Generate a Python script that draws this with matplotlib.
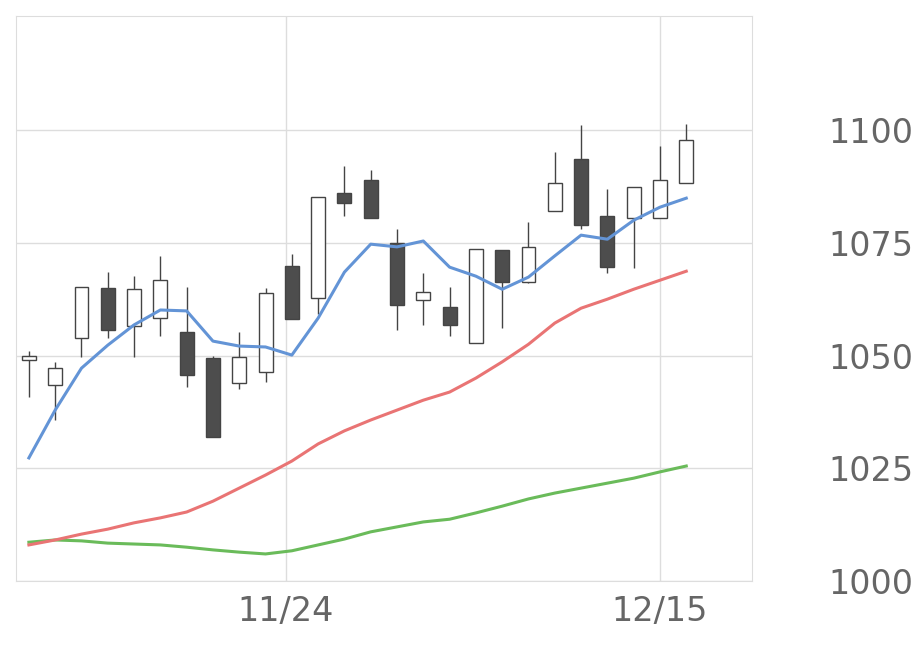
import matplotlib
matplotlib.use("Agg")
import matplotlib.pyplot as plt

opens  = [1049,1043.5,1053.9,1065,1056.5,1058.3,1055.2,1049.4,1043.9,1046.3,1069.8,1062.7,1086,1088.9,1075,1062.3,1060.8,1052.8,1073.4,1066.3,1082,1093.6,1080.9,1080.5,1080.5,1088.2]
closes = [1050,1047.2,1065.2,1055.7,1064.7,1066.7,1045.7,1031.9,1049.7,1063.9,1058.1,1085.1,1083.8,1080.5,1061.2,1064.1,1056.8,1073.6,1066.3,1074.1,1088.2,1078.9,1069.6,1087.4,1088.9,1097.8]
highs  = [1051,1048.6,1065.2,1068.5,1067.6,1072,1065.2,1049.9,1055.2,1065,1072.5,1085.1,1092,1091.1,1078,1068.3,1065.2,1073.6,1073.4,1079.6,1095.1,1101.1,1086.9,1087.4,1096.5,1101.3]
lows   = [1040.8,1035.7,1049.7,1053.9,1049.7,1054.3,1043,1031.9,1042.6,1044.1,1058.1,1059.2,1080.9,1080.5,1055.7,1056.8,1054.3,1052.8,1056.1,1066,1082,1078,1068.3,1069.4,1080.5,1088.2]
ma_blue = [1027.3,1037.9,1047.2,1052.3,1056.8,1060.1,1059.9,1053.2,1052.1,1051.9,1050.1,1058.3,1068.5,1074.7,1074.1,1075.4,1069.6,1067.6,1064.7,1067.4,1072.1,1076.7,1075.8,1080,1082.9,1084.9]
ma_red = [1008,1009.1,1010.4,1011.5,1012.9,1014,1015.3,1017.7,1020.6,1023.5,1026.6,1030.4,1033.3,1035.7,1037.9,1040.1,1041.9,1045,1048.6,1052.5,1057.2,1060.5,1062.5,1064.7,1066.7,1068.7]
ma_green = [1008.6,1009.1,1008.9,1008.4,1008.2,1008,1007.5,1006.9,1006.4,1006,1006.7,1008,1009.3,1010.9,1012,1013.1,1013.7,1015.1,1016.6,1018.2,1019.5,1020.6,1021.7,1022.8,1024.2,1025.5]
xtick_pos = [9.77, 24]
xtick_labels = ["11/24", "12/15"]
ytick_vals = [1000, 1025, 1050, 1075, 1100]

fig = plt.figure(figsize=(9.2, 6.69), dpi=100)
ax = fig.add_axes([16/920, 1-581/669, (752-16)/920, (581-16)/669])
x = list(range(len(opens)))
w = 0.53
for i in x:
    o, c, h, l = opens[i], closes[i], highs[i], lows[i]
    ax.vlines(i, l, h, color="#444444", lw=1, zorder=2)
    up = c >= o
    ax.bar(i, abs(c - o), w, bottom=min(o, c), color="white" if up else "#4d4d4d",
           edgecolor="#444444", lw=1, zorder=3)
ax.plot(x, ma_green, color="#6abb5a", lw=2.2, zorder=4)
ax.plot(x, ma_red, color="#e97474", lw=2.2, zorder=4)
ax.plot(x, ma_blue, color="#6394d6", lw=2.2, zorder=4)
ax.set_xlim(-0.49, 27.5)
ax.set_ylim(1000, 1125.3)
ax.set_xticks(xtick_pos)
ax.set_xticklabels(xtick_labels)
ax.set_yticks(ytick_vals)
ax.yaxis.tick_right()
ax.grid(True, color="#dddddd", lw=1, zorder=0)
ax.set_axisbelow(True)
for s in ax.spines.values():
    s.set_color("#dddddd")
ax.tick_params(length=0, labelsize=24, colors="#666666")
ax.tick_params(axis="y", pad=55)
ax.tick_params(axis="x", pad=10)
fig.savefig("out.png")
